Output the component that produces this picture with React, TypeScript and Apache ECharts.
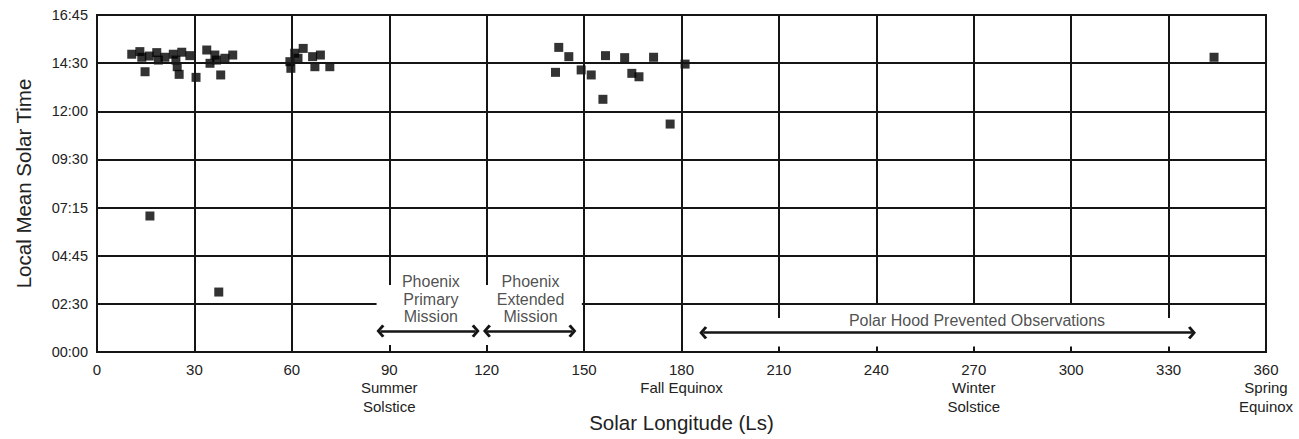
import React, { useEffect, useRef } from "react";
import * as echarts from "echarts";

// Solar longitude (Ls, degrees) of each observation
const lsValues = [
  10.7, 13.2, 13.8, 14.8, 16.1, 18.4, 18.9, 20.9, 23.5, 24.3, 24.7, 25.3, 26.1, 28.6,
  30.5, 33.8, 34.8, 36.3, 36.8, 38.1, 39.4, 41.8, 16.3, 37.5,
  59.4, 59.7, 60.9, 61.9, 63.5, 66.4, 67.1, 68.8, 71.7,
  142.2, 145.3, 141.2, 149.1, 152.2, 156.6, 155.8, 162.5, 164.7, 166.9, 171.4, 176.5, 181.1,
  344.0,
];
// Local mean solar time of each observation (hours)
const lmstHours = [
  14.8, 14.93, 14.65, 13.93, 14.71, 14.88, 14.51, 14.65, 14.8, 14.51, 14.18, 13.8, 14.9, 14.73,
  13.65, 15.01, 14.35, 14.76, 14.51, 13.77, 14.6, 14.76, 6.76, 2.98,
  14.43, 14.1, 14.85, 14.6, 15.09, 14.68, 14.18, 14.76, 14.18,
  15.14, 14.68, 13.9, 14.02, 13.77, 14.73, 12.56, 14.63, 13.85, 13.68, 14.65, 11.33, 14.31,
  14.65,
];

const xTickLabels = [
  "0", "30", "60", "90\nSummer\nSolstice", "120", "150", "180\nFall Equinox",
  "210", "240", "270\nWinter\nSolstice", "300", "330", "360\nSpring\nEquinox",
];
const yTickLabels = ["00:00", "02:30", "04:45", "07:15", "09:30", "12:00", "14:30", "16:45"];

// Annotations
const annotationLs = [102.8, 133.5, 271];
const annotationTime = [2.63, 2.63, 1.59];
const annotationText = [
  "Phoenix\nPrimary\nMission",
  "Phoenix\nExtended\nMission",
  "Polar Hood Prevented Observations",
];
// Arrow spans [startLs, endLs, time]
const arrowSpans: [number, number, number][] = [
  [87.3, 116.6, 1.04],
  [120.1, 146.4, 1.04],
  [186.7, 337.2, 0.96],
];

const Y_MAX = 16.75;
const Y_STEP = Y_MAX / 7;
const FONT = "'Liberation Sans', Arial, sans-serif";
const INK = "#151515";

export default function App() {
  const ref = useRef<HTMLDivElement>(null);
  useEffect(() => {
    document.body.style.margin = "0";
    const chart = echarts.init(ref.current!, null, { renderer: "svg" });

    const seg = (x1: number, y1: number, x2: number, y2: number) => [
      { coord: [x1, y1] },
      { coord: [x2, y2] },
    ];
    const gridSegs: any[] = [];
    // horizontal grid lines
    for (let k = 1; k <= 6; k++) {
      const y = k * Y_STEP;
      if (k === 1) {
        gridSegs.push(seg(0, y, 86.1, y));
        gridSegs.push(seg(149.3, y, 360, y));
      } else {
        gridSegs.push(seg(0, y, 360, y));
      }
    }
    // vertical grid lines
    for (let x = 30; x <= 330; x += 30) {
      if (x === 30 || x === 60 || x === 150 || x === 180) {
        gridSegs.push(seg(x, 0, x, Y_MAX));
      } else if (x === 90 || x === 120) {
        gridSegs.push(seg(x, 3.33, x, Y_MAX));
        gridSegs.push(seg(x, 0, x, 0.35));
      } else if (x === 210 || x === 330) {
        gridSegs.push(seg(x, 1.69, x, Y_MAX));
        gridSegs.push(seg(x, 0, x, 0.27));
      } else {
        gridSegs.push(seg(x, Y_STEP, x, Y_MAX));
        gridSegs.push(seg(x, 0, x, 0.27));
      }
    }

    const chevron = "path://M10,0 L20,7 L17.6,10 L10,4.6 L2.4,10 L0,7 Z";

    chart.setOption({
      animation: false,
      backgroundColor: "#fff",
      textStyle: { fontFamily: FONT },
      grid: {
        left: 97, right: 33, top: 15, bottom: 87,
        containLabel: false,
        outerBoundsMode: "none",
        show: true, borderColor: INK, borderWidth: 2, backgroundColor: "transparent",
      },
      xAxis: {
        type: "value", min: 0, max: 360, interval: 30,
        splitLine: { show: false },
        axisLine: { lineStyle: { color: INK, width: 2 } },
        axisTick: { show: false },
        axisLabel: {
          color: "#222", fontSize: 15, margin: 8, lineHeight: 18.5, fontFamily: FONT,
          formatter: (v: number) => xTickLabels[Math.round(v / 30)] ?? "",
        },
        name: "Solar Longitude (Ls)",
        nameLocation: "middle",
        nameGap: 60,
        nameMoveOverlap: false,
        nameTextStyle: { fontSize: 20.5, color: "#222", fontFamily: FONT },
      },
      yAxis: {
        type: "value", min: 0, max: Y_MAX, interval: Y_STEP,
        splitLine: { show: false },
        axisLine: { show: true, lineStyle: { color: INK, width: 2 } },
        axisTick: { show: false },
        axisLabel: {
          color: "#222", fontSize: 14.5, margin: 9, fontFamily: FONT,
          formatter: (v: number) => yTickLabels[Math.round(v / Y_STEP)] ?? "",
        },
        name: "Local Mean Solar Time",
        nameLocation: "middle",
        nameGap: 63,
        nameMoveOverlap: false,
        nameTextStyle: { fontSize: 20.5, color: "#222", fontFamily: FONT },
      },
      series: [
        {
          type: "scatter",
          z: 1,
          data: [],
          silent: true,
          markLine: {
            silent: true,
            symbol: ["none", "none"],
            label: { show: false },
            lineStyle: { color: INK, width: 2, type: "solid" },
            data: gridSegs,
          },
        },
        {
          type: "scatter",
          z: 2,
          data: [],
          silent: true,
          markLine: {
            silent: true,
            symbol: [chevron, chevron],
            symbolSize: [13, 8],
            label: { show: false },
            lineStyle: { color: INK, width: 2.5, type: "solid" },
            data: arrowSpans.map(([a, b, y]) => seg(a, y, b, y)),
          },
        },
        {
          type: "scatter",
          z: 3,
          symbolSize: 1,
          silent: true,
          itemStyle: { color: "rgba(0,0,0,0)" },
          label: {
            show: true, position: "inside", color: "#222", fontSize: 16,
            lineHeight: 17.5, fontFamily: FONT,
            formatter: (p: any) => annotationText[p.dataIndex],
          },
          data: annotationLs.map((x, i) => [x, annotationTime[i]]),
        },
        {
          type: "scatter",
          z: 4,
          symbol: "rect",
          symbolSize: 9,
          itemStyle: { color: "#000" },
          data: lsValues.map((x, i) => [x, lmstHours[i]]),
        },
      ],
    });
    return () => chart.dispose();
  }, []);
  return <div ref={ref} style={{ width: 1299, height: 439 }} />;
}
